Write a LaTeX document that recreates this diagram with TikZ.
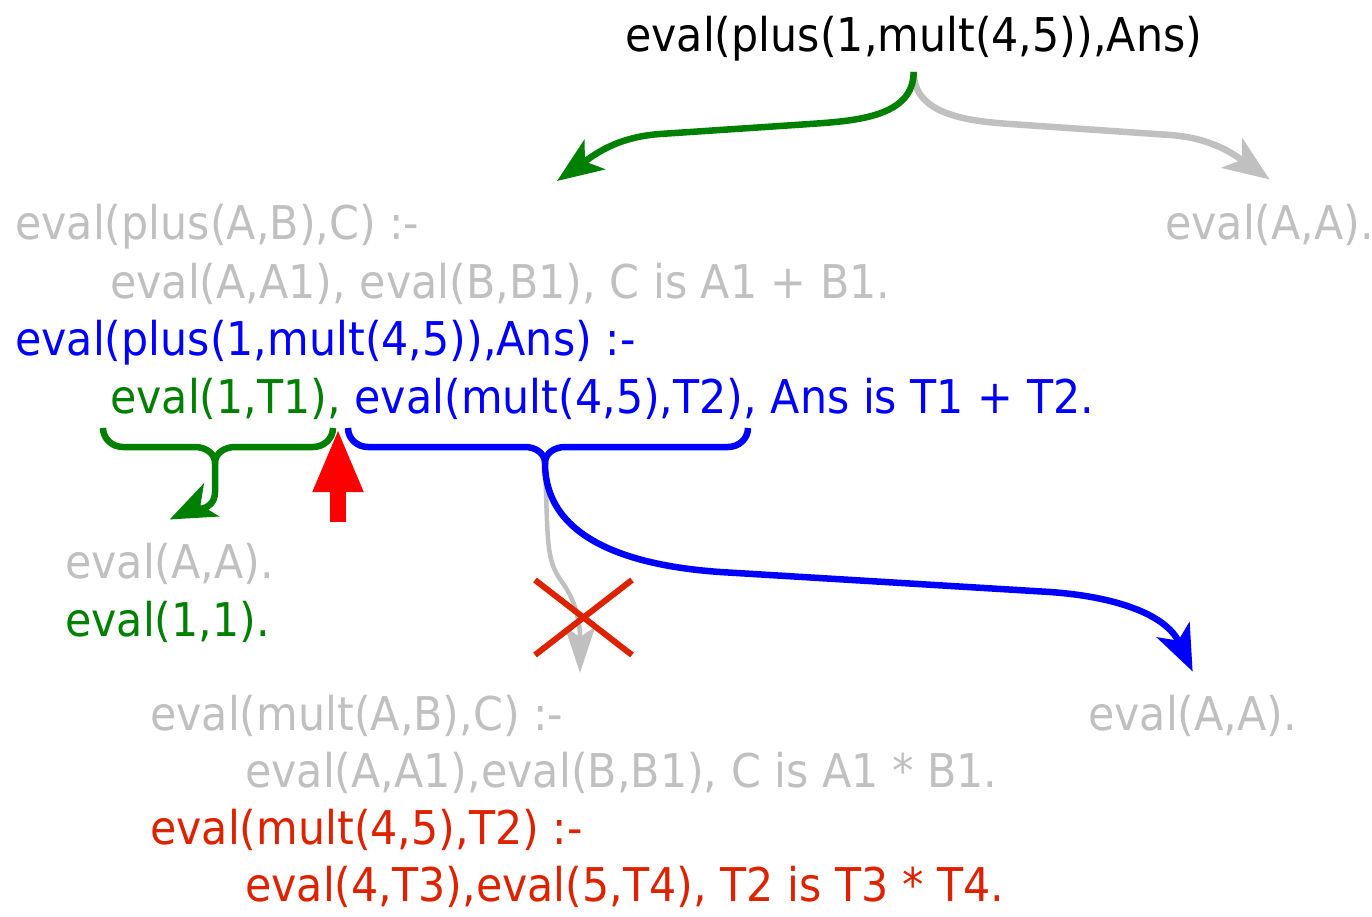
\documentclass[tikz,border=0pt]{standalone}
\usepackage{fontspec}
\setmainfont[FakeStretch=0.92]{DejaVu Sans}
\usetikzlibrary{arrows.meta}

\definecolor{silver}{HTML}{C0C0C0}
\definecolor{dkgreen}{HTML}{008000}
\definecolor{prored}{HTML}{DD2200}

\begin{document}
\begin{tikzpicture}[x=1pt,y=1pt,
    flow/.style={line width=6.5pt,-{Stealth[length=46pt,width=36pt,inset=12pt]}},
    brace/.style={line width=6.5pt,line join=round}]

      \useasboundingbox (0,0) rectangle (1372,-917);

      \begin{scope}[every node/.style={anchor=base west,inner sep=0pt,
          font=\fontsize{46.5}{56}\selectfont}]
        \node (goal) at (625,-52) {eval(plus(1,mult(4,5)),Ans)};
        \node[text=silver] (plusA) at (15,-240) {eval(plus(A,B),C) :-};
        \node[text=silver] (plusB) at (110,-298) {eval(A,A1), eval(B,B1), C is A1 + B1.};
        \node[text=silver] (factR) at (1165,-240) {eval(A,A).};
        \node[text=blue] (plusC) at (15,-355) {eval(plus(1,mult(4,5)),Ans) :-};
        \node[text=blue] (plusD) at (110,-413) {\textcolor{dkgreen}{eval(1,T1),} eval(mult(4,5),T2), Ans is T1 + T2.};
        \node[text=silver] (factL) at (65,-578) {eval(A,A).};
        \node[text=dkgreen] (factG) at (65,-636) {eval(1,1).};
        \node[text=silver] (multA) at (150,-730) {eval(mult(A,B),C) :-};
        \node[text=silver] (multB) at (245,-787) {eval(A,A1),eval(B,B1), C is A1 * B1.};
        \node[text=prored] (multC) at (150,-844) {eval(mult(4,5),T2) :-};
        \node[text=prored] (multD) at (245,-901) {eval(4,T3),eval(5,T4), T2 is T3 * T4.};
        \node[text=silver] (factM) at (1088,-730) {eval(A,A).};
      \end{scope}

      \coordinate (gcusp) at (215,-463);
      \coordinate (bcusp) at (545,-463);
      \coordinate (gtip) at (557,-181);
      \coordinate (xtip) at (580,-673);

      % first step: both clauses tried
      \draw[flow,silver] ([yshift=-10pt]goal.south) to[out=-90,in=176] (1010,-124)
        -- (1170,-135) to[out=-4,in=145] ([yshift=25pt]factR.north);
      \draw[flow,dkgreen] ([yshift=-10pt]goal.south) to[out=-90,in=4] (810,-124)
        -- (660,-134) to[out=184,in=35] (gtip);

      % braces under the body
      \draw[brace,dkgreen] (103,-428) to[out=-90,in=180] (123,-447) -- (195,-447)
        to[out=0,in=90] (gcusp) to[out=90,in=180] (235,-447) -- (313,-447)
        to[out=0,in=-90] (333,-428);
      \draw[brace,blue] (348,-428) to[out=-90,in=180] (368,-447) -- (525,-447)
        to[out=0,in=90] (bcusp) to[out=90,in=180] (565,-447) -- (728,-447)
        to[out=0,in=-90] (748,-428);

      \draw[flow,dkgreen] (gcusp) -- (215,-492) to[out=-90,in=25] ([yshift=23pt]factL.north);
      \draw[line width=4.5pt,silver,-{Stealth[length=46pt,width=30pt,inset=10pt]}] (bcusp)
        .. controls (548,-545) and (546,-560) .. (562,-582)
        .. controls (575,-600) and (580,-620) .. (xtip);
      \draw[flow,blue] (bcusp) to[out=-90,in=176] (720,-572) -- (1050,-592)
        to[out=-4,in=115] ([yshift=23pt]factM.north);

      % current position and failed branch
      \draw[red,line width=16pt,-{Triangle[length=64pt,width=46pt]}] (338,-522) -- (338,-428);
      \draw[prored,line width=6pt] (535,-580) -- (632,-655) (535,-655) -- (632,-580);

\end{tikzpicture}
\end{document}
